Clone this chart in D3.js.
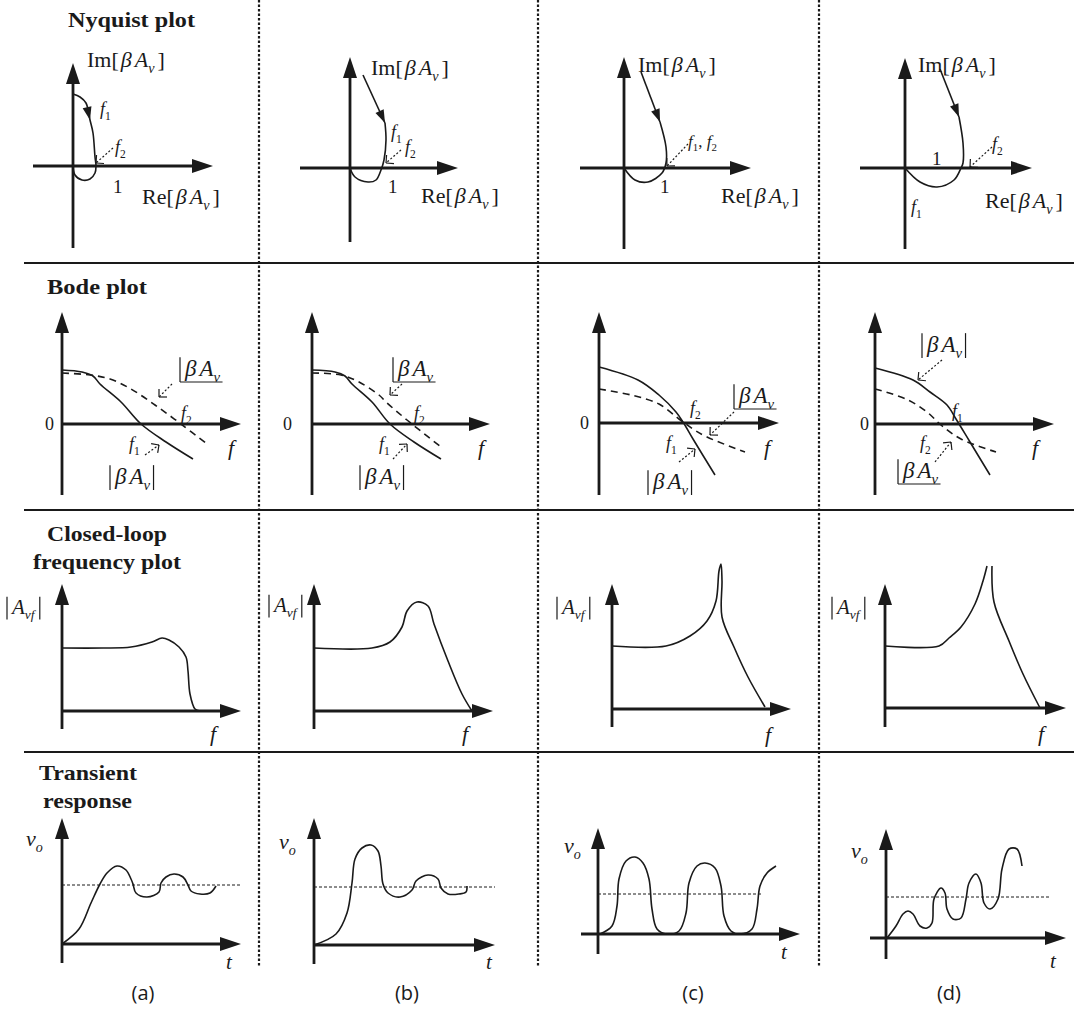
<!DOCTYPE html>
<html>
<head>
<meta charset="utf-8">
<script src="https://cdn.jsdelivr.net/npm/d3@7"></script>
<style>
body { margin: 0; background: #fff; }
svg { display: block; }
.serif { font-family: "Liberation Serif", "Times New Roman", serif; fill: #1a1a1a; }
.sans { font-family: "Open Sans", "Noto Sans", sans-serif; fill: #1a1a1a; }
</style>
</head>
<body>
<svg id="fig" width="1074" height="1014"></svg>
<script>
// ---- data (units along each sketch's own axes, y positive upward) ----
var panel_names = ['(a)', '(b)', '(c)', '(d)'];
var row_titles = [['Nyquist plot'], ['Bode plot'], ['Closed-loop', 'frequency plot'], ['Transient', 'response']];

// Nyquist loci [Re, Im]; leaders run from the Im label to the start of the locus
var nyq_a = [[0, 7.2], [0.7, 6.9], [1.3, 6.3], [1.7, 4.6], [2.0, 3.3], [2.2, 0.9], [2.3, 0], [2.2, -0.7], [1.7, -1.3], [0.9, -1.4], [0.2, -0.9], [0, 0]];
var nyq_b = [[3.5, 4.5], [3.6, 2.8], [3.4, 0.8], [3.1, -0.2], [2.6, -1.2], [1.8, -1.4], [0.5, -0.9], [0, 0]];
var nyq_c = [[3.6, 4.6], [4.2, 2.1], [4.2, 0.5], [3.8, -0.5], [2.4, -1.4], [1.1, -1.2], [0, 0]];
var nyq_d = [[5.4, 5.1], [5.8, 2.5], [5.8, 0.5], [5.6, 0], [4.9, -1.2], [3.2, -1.9], [1.5, -1.4], [0, 0]];
var nyq_leaders = [null, [[1.3, 9.3], [3.5, 4.5]], [[1.7, 9.6], [3.6, 4.6]], [[3.5, 9.9], [5.4, 5.1]]];

// Bode: loop-gain magnitude (solid) and phase (dashed) against frequency
var bode_mag_a = [[0, 5.4], [2.0, 5.2], [3.1, 4.8], [3.8, 4.0], [5.9, 2.2], [7.9, 0], [10.4, -1.8], [13.1, -3.5]];
var bode_ph_a = [[0, 5.1], [2.8, 4.9], [4.8, 4.5], [6.9, 3.5], [9.3, 1.9], [11.9, 0], [14.5, -2.0]];
var bode_mag_b = [[0, 5.4], [2.3, 5.2], [3.3, 4.8], [4.0, 4.0], [6.0, 2.2], [7.8, 0], [10.2, -1.8], [12.9, -3.5]];
var bode_ph_b = [[0, 5.1], [2.9, 4.9], [4.7, 4.2], [6.7, 2.9], [7.4, 2.2], [9.5, 0.4], [12.9, -2.3]];
var bode_mag_c = [[0, 5.6], [3.9, 4.3], [6.0, 2.8], [7.7, 1.1], [8.4, 0.1], [9.4, -1.6], [11.6, -5.2]];
var bode_ph_c = [[0, 3.4], [3.2, 2.8], [6.0, 1.9], [8.0, 0.4], [9.4, -0.6], [10.8, -1.4], [14.6, -2.9]];
var bode_mag_d = [[0, 5.6], [3.8, 4.4], [5.5, 3.2], [7.2, 1.9], [8.1, 0.5], [9.5, -1.8], [11.5, -5.1]];
var bode_ph_d = [[0, 3.5], [3.1, 2.5], [5.2, 1.2], [6.6, -0.1], [8.6, -1.5], [12.1, -2.8]];

// Closed-loop |Avf| against frequency
var cl_a = [[0, 6.3], [4.1, 6.3], [6.9, 6.4], [9.0, 6.9], [10.0, 7.3], [10.7, 7.1], [11.7, 6.4], [12.4, 5.4], [12.6, 4.0], [12.8, 1.7], [13.3, 0.2], [13.8, 0]];
var cl_b = [[0, 6.3], [5.8, 6.3], [7.6, 6.9], [8.8, 8.4], [9.3, 10.0], [10.3, 10.9], [11.4, 10.5], [12.0, 8.7], [13.4, 5.0], [14.8, 1.7], [15.8, 0]];
var cl_c = [[0, 6.3], [5.4, 6.3], [7.8, 7.3], [9.5, 8.8], [10.4, 10.8], [10.7, 13.8], [10.9, 14.5], [11.0, 12.8], [11.0, 9.2], [12.2, 6.2], [13.6, 3.2], [15.3, 0.2]];
var cl_d1 = [[0, 6.2], [5.4, 6.2], [6.4, 7.0], [7.6, 8.1], [9.0, 10.4], [9.8, 12.7], [10.2, 14.2]];
var cl_d2 = [[10.7, 14.2], [10.9, 10.6], [12.4, 6.7], [13.8, 3.4], [15.5, 0]];

// Transient response vo(t) and its final value
var tr_a = [[0, 0], [1.7, 1.5], [2.9, 4.1], [3.8, 6.0], [4.5, 7.1], [5.5, 7.8], [6.4, 7.4], [6.9, 6.5], [7.1, 6.0], [7.4, 5.1], [8.5, 4.7], [9.7, 5.2], [9.9, 6.1], [10.4, 6.7], [11.2, 7.0], [12.1, 6.7], [12.6, 5.9], [12.9, 5.3], [13.8, 5.0], [14.8, 5.1], [15.4, 5.8]];
var tr_b = [[0, 0], [2.2, 1.1], [3.3, 3.2], [3.8, 6.2], [4.1, 8.6], [4.8, 9.7], [5.7, 10.0], [6.4, 9.4], [6.7, 7.9], [6.9, 6.1], [7.4, 5.2], [8.6, 4.8], [9.8, 5.5], [10.2, 6.4], [11.4, 7.0], [12.4, 6.6], [12.7, 5.7], [13.4, 5.1], [14.5, 5.1], [15.2, 5.3], [15.3, 5.9]];
var tr_c = [[0.2, 0], [1.4, 0.8], [1.9, 2.8], [2.1, 5.5], [2.8, 7.3], [3.7, 7.7], [4.5, 7.1], [5.1, 5.5], [5.4, 2.5], [5.9, 0.5], [6.9, 0], [8.1, 0.3], [8.8, 2.1], [9.1, 5.1], [9.9, 6.8], [10.7, 7.1], [11.7, 6.6], [12.3, 4.8], [12.6, 1.8], [13.3, 0.3], [14.2, 0], [15.4, 0.5], [15.9, 2.5], [16.2, 4.8], [16.9, 6.1], [17.8, 6.8]];
var tr_d = [[0.1, 0], [1.0, 1.2], [1.7, 2.4], [2.2, 2.7], [2.7, 2.4], [3.4, 1.2], [4.1, 1.0], [4.6, 1.5], [4.8, 3.9], [5.5, 5.0], [5.9, 4.5], [6.1, 2.9], [6.7, 1.9], [7.5, 2.0], [8.0, 3.9], [8.3, 5.5], [9.0, 6.4], [9.5, 5.5], [9.8, 3.5], [10.4, 2.9], [11.2, 3.9], [11.6, 6.9], [12.3, 8.9], [13.1, 8.9], [13.6, 7.2]];
var tr_final = [5.9, 5.8, 4.0, 4.1];

// ---- layout ----
var K = 10; // px per unit
var col_lines = [259, 538, 819];
var row_lines = [263, 510, 752];
var nyq_origins = [[73, 166], [350, 168], [624, 168], [905, 168]];
var nyq_extents = [[-4.0, 14.0, -8.2, 10.3], [-5.0, 10.8, -7.4, 11.1], [-4.4, 12.7, -8.1, 11.1], [-4.5, 12.7, -8.1, 11.0]];
var bode_origins = [[62, 424], [312, 424], [599, 423], [875, 424]];
var bode_extents = [[0, 17.9, -7.1, 11.2], [0, 17.8, -7.1, 11.2], [0, 18.0, -7.2, 11.1], [0, 17.9, -7.1, 11.2]];
var cl_origins = [[62, 711], [314, 711], [612, 709], [885, 708]];
var cl_extents = [[0, 17.9, -1.8, 12.7], [0, 17.9, -1.8, 12.7], [0, 17.9, -1.8, 12.5], [0, 18.1, -1.9, 12.4]];
var tr_origins = [[62, 944], [314, 945], [598, 934], [886, 938]];
var tr_extents = [[0, 17.9, -1.9, 12.6], [0, 18.1, -1.9, 12.7], [-1.7, 20.2, -2.0, 10.6], [-1.6, 18.0, -2.1, 10.9]];
var tr_final_end = [17.9, 18.1, 16.4, 16.4];
var name_x = [143, 407, 693, 949];
var title_specs = [[68, 27, 127], [47, 294, 100], [47, 541, 120], [33, 569, 148], [39, 780, 98], [43, 808, 89]];

var label_kinds = {
    im: {size: 22, parts: [['Im[', 'r'], ['β', 'i', 2], ['A', 'i', 3], ['v', 's'], [']', 'r', 3]]},
    re: {size: 22, parts: [['Re[', 'r'], ['β', 'i', 2], ['A', 'i', 3], ['v', 's'], [']', 'r', 3]]},
    mag: {size: 23, deco: 'abs', parts: [['β', 'i'], ['A', 'i', 3], ['v', 's']]},
    phase: {size: 23, deco: 'angle', parts: [['β', 'i'], ['A', 'i', 3], ['v', 's']]},
    avf: {size: 21, deco: 'abs', parts: [['A', 'i'], ['vf', 's']]},
    f1: {size: 18, parts: [['f', 'i'], ['1', 'sr']]},
    f2: {size: 18, parts: [['f', 'i'], ['2', 'sr']]},
    f12: {size: 17, parts: [['f', 'i'], ['1', 'sr'], [', ', 'r'], ['f', 'i'], ['2', 'sr']]},
    one: {size: 19, parts: [['1', 'r']]},
    zero: {size: 18, parts: [['0', 'r']]},
    f: {size: 22, parts: [['f', 'i']]},
    t: {size: 21, parts: [['t', 'i']]},
    vo: {size: 22, parts: [['v', 'i'], ['o', 's']]}
};

var nyq_labels = [
    [['im', 1.4, 9.9], ['re', 6.9, -3.8], ['one', 4.0, -2.7], ['f1', 2.7, 5.1], ['f2', 4.2, 1.3], ['ptr', 4.0, 1.8, 2.3, 0.3]],
    [['im', 2.1, 9.3], ['re', 7.1, -3.5], ['one', 3.8, -2.5], ['f1', 4.1, 3.0], ['f2', 5.5, 1.5], ['ptr', 5.1, 1.8, 3.6, 0.5]],
    [['im', 1.4, 9.6], ['re', 9.7, -3.5], ['one', 3.6, -2.5], ['f12', 6.4, 2.1], ['ptr', 6.4, 2.4, 4.3, 0.2]],
    [['im', 1.3, 9.6], ['re', 8.0, -4.0], ['one', 2.7, 0.3], ['f2', 8.7, 1.8], ['f1', 0.6, -4.5], ['ptr', 8.7, 2.1, 6.5, 0.1]]
];
var bode_labels = [
    [['phase', 11.8, 4.8], ['ptr', 11.0, 4.0, 9.7, 2.7], ['f2', 11.9, 0.5], ['f1', 6.7, -2.6], ['ptr', 8.3, -3.1, 9.7, -2.1], ['mag', 4.8, -6.0], ['f', 16.6, -3.1], ['zero', -1.7, -0.6]],
    [['phase', 8.1, 4.8], ['ptr', 9.0, 4.0, 7.8, 2.9], ['f2', 10.2, 0.5], ['f1', 6.7, -2.6], ['ptr', 8.1, -3.5, 9.5, -2.0], ['mag', 4.8, -6.0], ['f', 16.6, -3.1], ['zero', -2.9, -0.6]],
    [['f2', 9.1, 0.9], ['phase', 13.5, 2.0], ['ptr', 13.5, 1.1, 11.1, -1.2], ['f1', 6.7, -2.6], ['ptr', 8.0, -3.9, 9.6, -2.6], ['mag', 4.9, -6.6], ['f', 16.5, -3.2], ['zero', -1.9, -0.6]],
    [['mag', 4.7, 7.2], ['ptr', 6.7, 6.4, 4.3, 4.4], ['f1', 7.7, 0.7], ['f2', 4.5, -2.5], ['ptr', 6.0, -3.8, 7.6, -1.8], ['phase', 2.3, -5.4], ['f', 15.7, -3.1], ['zero', -1.5, -0.6]]
];
var cl_labels = [
    [['avf', -5.5, 9.7], ['f', 14.8, -3.0]],
    [['avf', -4.5, 9.9], ['f', 14.8, -3.0]],
    [['avf', -5.5, 9.5], ['f', 15.3, -3.3]],
    [['avf', -5.3, 9.4], ['f', 15.3, -3.3]]
];
var tr_labels = [
    [['vo', -3.6, 9.8], ['t', 16.4, -2.5]],
    [['vo', -3.5, 9.6], ['t', 17.2, -2.4]],
    [['vo', -3.4, 8.1], ['t', 18.3, -2.5]],
    [['vo', -3.5, 8.0], ['t', 16.4, -3.0]]
];

// ---- drawing ----
var svg = d3.select('#fig');
var ink = '#1a1a1a';
var smooth = d3.curveCatmullRom.alpha(0.5);

function scales_for(origin) {
    return {
        x: d3.scaleLinear().domain([0, 1]).range([origin[0], origin[0] + K]),
        y: d3.scaleLinear().domain([0, 1]).range([origin[1], origin[1] - K])
    };
}
function line_for(s, curve) {
    return d3.line().x(function (d) { return s.x(d[0]); }).y(function (d) { return s.y(d[1]); }).curve(curve || smooth);
}
function filled_arrow(g, tip, dir, len, wid) {
    var a = Math.atan2(dir[1], dir[0]);
    var bx = tip[0] - len * Math.cos(a), by = tip[1] - len * Math.sin(a);
    var px = -Math.sin(a) * wid / 2, py = Math.cos(a) * wid / 2;
    g.append('path')
        .attr('d', 'M' + tip + 'L' + [bx + px, by + py] + 'L' + [bx - px, by - py] + 'Z')
        .attr('fill', ink);
}
function draw_axes(g, s, ext) {
    var L = 21, W = 14;
    g.append('line').attr('x1', s.x(ext[0])).attr('x2', s.x(ext[1]) - L + 3)
        .attr('y1', s.y(0)).attr('y2', s.y(0)).attr('stroke', ink).attr('stroke-width', 2.8);
    filled_arrow(g, [s.x(ext[1]), s.y(0)], [1, 0], L, W);
    g.append('line').attr('x1', s.x(0)).attr('x2', s.x(0))
        .attr('y1', s.y(ext[2])).attr('y2', s.y(ext[3]) + L - 3).attr('stroke', ink).attr('stroke-width', 2.8);
    filled_arrow(g, [s.x(0), s.y(ext[3])], [0, -1], L, W);
}
function draw_curve(g, s, pts, dash) {
    g.append('path').attr('d', line_for(s)(pts)).attr('fill', 'none')
        .attr('stroke', ink).attr('stroke-width', 1.6)
        .attr('stroke-dasharray', dash || null);
}
function pointer(g, s, spec) {
    var p0 = [s.x(spec[1]), s.y(spec[2])], p1 = [s.x(spec[3]), s.y(spec[4])];
    g.append('line').attr('x1', p0[0]).attr('y1', p0[1]).attr('x2', p1[0]).attr('y2', p1[1])
        .attr('stroke', ink).attr('stroke-width', 1.2).attr('stroke-dasharray', '2,2');
    var a = Math.atan2(p1[1] - p0[1], p1[0] - p0[0]);
    [-Math.PI / 4, Math.PI / 4].forEach(function (o) {
        g.append('line').attr('x1', p1[0]).attr('y1', p1[1])
            .attr('x2', p1[0] - 8 * Math.cos(a + o)).attr('y2', p1[1] - 8 * Math.sin(a + o))
            .attr('stroke', ink).attr('stroke-width', 1.2);
    });
}
function math_label(g, x, y, kind) {
    var size = kind.size;
    var tx = kind.deco ? x + 5 : x;
    var t = g.append('text').attr('class', 'serif').attr('x', tx).attr('y', y).attr('font-size', size);
    var shift = 0;
    kind.parts.forEach(function (p) {
        var sub = p[1] === 's' || p[1] === 'sr';
        var want = sub ? 0.26 * size : 0;
        var sp = t.append('tspan').text(p[0]).attr('dy', want - shift);
        shift = want;
        if (p[1] === 'i' || p[1] === 's') sp.attr('font-style', 'italic');
        if (sub) sp.attr('font-size', size * 0.64);
        if (p[2]) sp.attr('dx', p[2]);
    });
    if (!kind.deco) return;
    var bb = t.node().getBBox();
    var top = y - 0.82 * size, bot = y + 0.26 * size;
    g.append('line').attr('x1', x).attr('x2', x).attr('y1', top).attr('y2', bot)
        .attr('stroke', ink).attr('stroke-width', 1.2);
    if (kind.deco === 'abs') {
        var xr = bb.x + bb.width + 3;
        g.append('line').attr('x1', xr).attr('x2', xr).attr('y1', top).attr('y2', bot)
            .attr('stroke', ink).attr('stroke-width', 1.2);
    } else {
        g.append('line').attr('x1', x).attr('x2', bb.x + bb.width + 2).attr('y1', bot).attr('y2', bot)
            .attr('stroke', ink).attr('stroke-width', 1.2);
    }
}
function draw_labels(g, s, list) {
    list.forEach(function (spec) {
        if (spec[0] === 'ptr') pointer(g, s, spec);
        else math_label(g, s.x(spec[1]), s.y(spec[2]), label_kinds[spec[0]]);
    });
}

// frame: solid row rules and dotted column rules
row_lines.forEach(function (y) {
    svg.append('line').attr('x1', 24).attr('x2', 1074).attr('y1', y).attr('y2', y)
        .attr('stroke', ink).attr('stroke-width', 2);
});
col_lines.forEach(function (x) {
    svg.append('line').attr('x1', x).attr('x2', x).attr('y1', 0).attr('y2', 966)
        .attr('stroke', ink).attr('stroke-width', 2.2).attr('stroke-dasharray', '2.5,2');
});

// row titles
var title_lines = [].concat.apply([], row_titles);
title_lines.forEach(function (txt, i) {
    var spec = title_specs[i];
    svg.append('text').attr('class', 'serif').attr('x', spec[0]).attr('y', spec[1])
        .attr('font-size', 21).attr('font-weight', 'bold')
        .attr('textLength', spec[2]).attr('lengthAdjust', 'spacingAndGlyphs').text(txt);
});

// Nyquist
[nyq_a, nyq_b, nyq_c, nyq_d].forEach(function (locus, i) {
    var g = svg.append('g');
    var s = scales_for(nyq_origins[i]);
    draw_axes(g, s, nyq_extents[i]);
    draw_curve(g, s, locus);
    var lead = nyq_leaders[i];
    if (lead) {
        g.append('path').attr('d', line_for(s, d3.curveLinear)(lead)).attr('fill', 'none')
            .attr('stroke', ink).attr('stroke-width', 1.6);
        var tip = [s.x(lead[1][0]), s.y(lead[1][1])];
        filled_arrow(g, tip, [tip[0] - s.x(lead[0][0]), tip[1] - s.y(lead[0][1])], 13, 9);
    } else {
        var k = 3;
        var tp = [s.x(locus[k][0]), s.y(locus[k][1])];
        filled_arrow(g, tp, [s.x(locus[k + 1][0]) - s.x(locus[k - 1][0]), s.y(locus[k + 1][1]) - s.y(locus[k - 1][1])], 13, 9);
    }
    draw_labels(g, s, nyq_labels[i]);
});

// Bode
[[bode_mag_a, bode_ph_a], [bode_mag_b, bode_ph_b], [bode_mag_c, bode_ph_c], [bode_mag_d, bode_ph_d]].forEach(function (pair, i) {
    var g = svg.append('g');
    var s = scales_for(bode_origins[i]);
    draw_axes(g, s, bode_extents[i]);
    draw_curve(g, s, pair[0]);
    draw_curve(g, s, pair[1], '7,5');
    draw_labels(g, s, bode_labels[i]);
});

// Closed-loop frequency response
[[cl_a], [cl_b], [cl_c], [cl_d1, cl_d2]].forEach(function (segs, i) {
    var g = svg.append('g');
    var s = scales_for(cl_origins[i]);
    draw_axes(g, s, cl_extents[i]);
    segs.forEach(function (seg) { draw_curve(g, s, seg); });
    draw_labels(g, s, cl_labels[i]);
});

// Transient response
[tr_a, tr_b, tr_c, tr_d].forEach(function (pts, i) {
    var g = svg.append('g');
    var s = scales_for(tr_origins[i]);
    draw_axes(g, s, tr_extents[i]);
    g.append('line').attr('x1', s.x(0)).attr('x2', s.x(tr_final_end[i]))
        .attr('y1', s.y(tr_final[i])).attr('y2', s.y(tr_final[i]))
        .attr('stroke', ink).attr('stroke-width', 1).attr('stroke-dasharray', '3,2');
    draw_curve(g, s, pts);
    draw_labels(g, s, tr_labels[i]);
});

// panel names
panel_names.forEach(function (name, i) {
    svg.append('text').attr('class', 'sans').attr('x', name_x[i]).attr('y', 1000)
        .attr('text-anchor', 'middle').attr('font-size', 20).text(name);
});
</script>
</body>
</html>
